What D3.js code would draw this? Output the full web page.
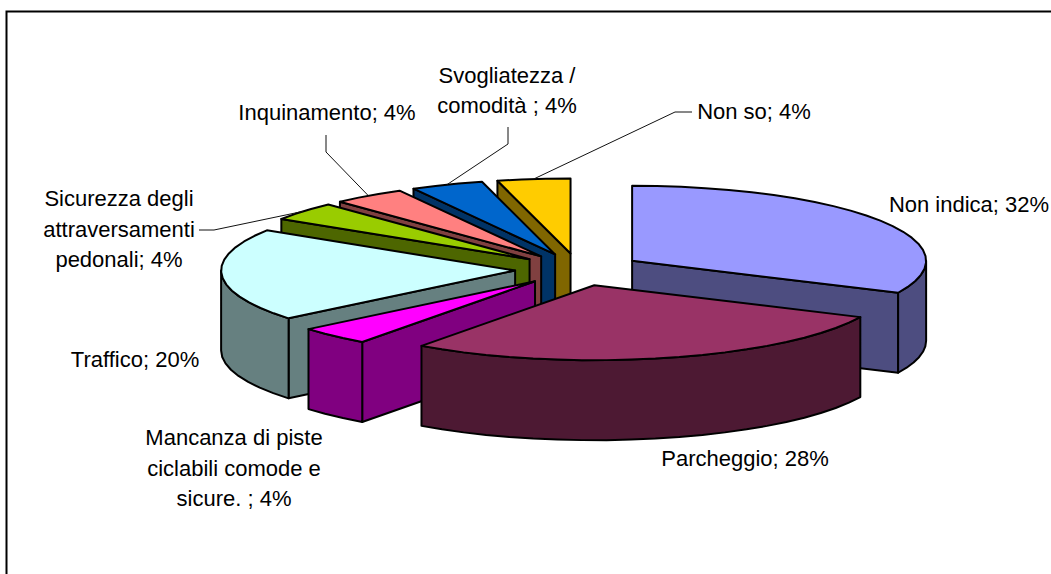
<!DOCTYPE html>
<html><head><meta charset="utf-8">
<script src="https://cdn.jsdelivr.net/npm/d3@7/dist/d3.min.js"></script>
<style>html,body{margin:0;padding:0;background:#fff}svg{display:block}text{font-family:"Liberation Sans",Arial,sans-serif;font-size:22px;fill:#000}</style>
</head><body><script>
const categories = ["Non indica","Parcheggio","Mancanza di piste ciclabili comode e sicure. ","Traffico","Sicurezza degli attraversamenti pedonali","Inquinamento","Svogliatezza / comodità ","Non so"];
const values = [32,28,4,20,4,4,4,4];
const colors = ["#9999FF","#993366","#FF00FF","#CCFFFF","#99CC00","#FF8080","#0066CC","#FFCC00"];
const sideColors = ["#4D4D80","#4D1933","#800080","#668080","#4D6600","#804040","#003366","#806600"];
const labelLines = [["Non indica; 32%"],["Parcheggio; 28%"],["Mancanza di piste","ciclabili comode e","sicure. ; 4%"],["Traffico; 20%"],["Sicurezza degli","attraversamenti","pedonali; 4%"],["Inquinamento; 4%"],["Svogliatezza /","comodità ; 4%"],["Non so; 4%"]];
const labelX = [969,745,234,135,119,327,507,754];
const labelY = [212,466,445,367,206,120,82.5,119];
const leaders = [null,null,null,null,[[214,230],[199,230]],[[326,152],[326,135]],[[508,144],[508,127]],[[675,112],[692,112]]];

const W=1051,H=574, cx=578.5, cy=269.5, rx=294, ry=75, depth=80, explode=0.216;
const svg=d3.select("body").append("svg").attr("width",W).attr("height",H);
svg.append("path").attr("d",d3.line()([[6.5,H+5],[6.5,11.5],[W+5,11.5]])).attr("fill","none").attr("stroke","#000").attr("stroke-width",2);

const arcs=d3.pie().sort(null).value(d=>d)(values);
const X=d3.scaleLinear().domain([-1,1]).range([-rx,rx]);
const Y=d3.scaleLinear().domain([-1,1]).range([-ry,ry]);
const line=d3.line();
const rad=Math.PI/180;
arcs.forEach(a=>{
  const m=(a.startAngle+a.endAngle)/2;
  a.ax=cx+X(Math.sin(m)*explode); a.ay=cy+Y(-Math.cos(m)*explode);
  a.pt=t=>[a.ax+X(Math.sin(t)),a.ay+Y(-Math.cos(t))];
  a.mid=m;
});
function arcPts(a,t0,t1){const n=Math.max(2,Math.ceil((t1-t0)/(5*rad)));return d3.range(n+1).map(i=>a.pt(t0+(t1-t0)*i/n));}
const sl=d=>({fill:d,stroke:"#000","stroke-width":2,"stroke-linejoin":"round"});
function face(g,pts,fill){const p=g.append("path").attr("d",line(pts)+"Z");const s=sl(fill);for(const k in s)p.attr(k,s[k]);}
const order=[7,6,5,4,3,2,0,1];
order.forEach(i=>{
  const a=arcs[i],g=svg.append("g"),side=sideColors[i];
  const down=p=>[p[0],p[1]+depth];
  const A=[a.ax,a.ay];
  if(Math.sin(a.endAngle)>1e-6){const e=a.pt(a.endAngle);face(g,[A,e,down(e),down(A)],side);}
  if(Math.sin(a.startAngle)<-1e-6){const e=a.pt(a.startAngle);face(g,[A,e,down(e),down(A)],side);}
  const t0=Math.max(a.startAngle,Math.PI/2),t1=Math.min(a.endAngle,3*Math.PI/2);
  if(t1>t0){const top=arcPts(a,t0,t1);face(g,top.concat(top.slice().reverse().map(down)),side);}
  face(g,[A].concat(arcPts(a,a.startAngle,a.endAngle)),colors[i]);
});
arcs.forEach((a,i)=>{
  if(leaders[i]){svg.append("path").attr("d",line([a.pt(a.mid)].concat(leaders[i]))).attr("fill","none").attr("stroke","#111").attr("stroke-width",1);}
  const t=svg.append("text").attr("text-anchor","middle");
  labelLines[i].forEach((s,j)=>t.append("tspan").attr("x",labelX[i]).attr("y",labelY[i]+j*30.5).text(s));
});
</script></body></html>
